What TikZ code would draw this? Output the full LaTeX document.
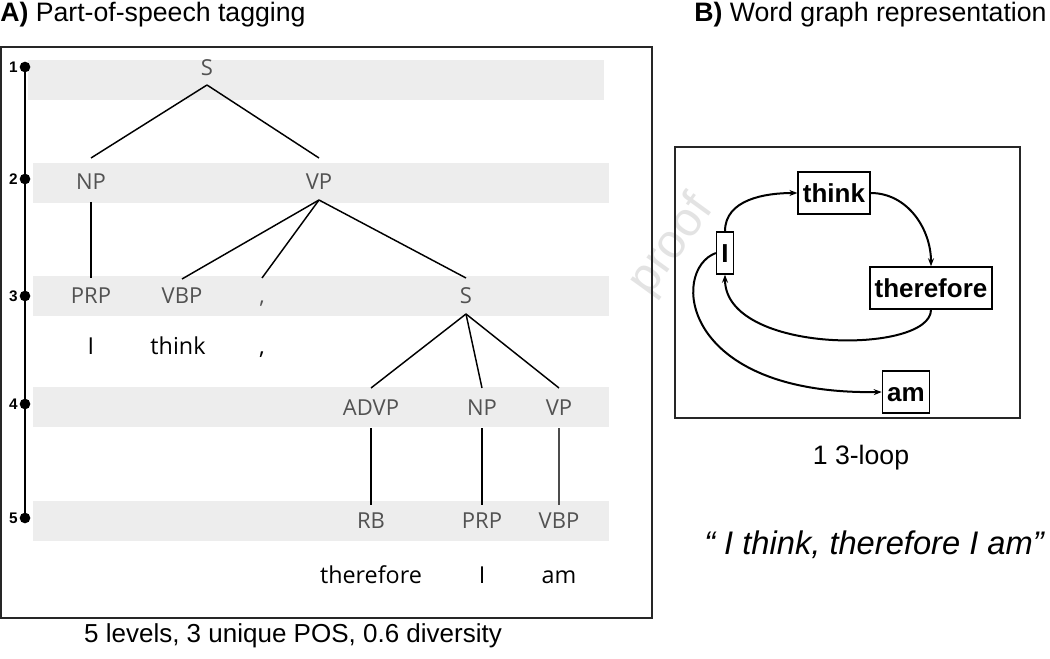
\documentclass[tikz,border=0pt]{standalone}
\usepackage{fontspec}
\setmainfont{Liberation Sans}
\newfontfamily\treefont{Open Sans}
\usetikzlibrary{arrows.meta,calc}
\tikzset{
  band/.style={fill=black!7, draw=none},
  postag/.style={font=\treefont\fontsize{16.5}{16.5}\selectfont, text=black!68, inner sep=1pt, text height=11.8pt, text depth=0pt},
  wordtag/.style={font=\treefont\fontsize{17.5}{17.5}\selectfont, text=black, inner sep=1pt, text height=12.5pt, text depth=0pt},
  branch/.style={line width=1.1pt},
  lvl/.style={font=\bfseries\fontsize{11.5}{11.5}\selectfont, inner sep=0pt},
  frame/.style={line width=1.1pt, draw=black!85},
  gnode/.style={draw, line width=1.1pt, font=\bfseries\fontsize{19.5}{19.5}\selectfont, inner xsep=3.6pt, inner ysep=0pt, minimum height=31.5pt, text height=14pt, text depth=0pt},
  gedge/.style={line width=1.5pt, -{Stealth[length=6pt,width=4.5pt]}},
  titletext/.style={font=\fontsize{20}{20}\selectfont, inner sep=0pt, anchor=base west},
}
\begin{document}
\begin{tikzpicture}[x=0.75pt,y=-0.75pt]
\useasboundingbox (0,0) rectangle (1050,659);
\fill[white] (0,0) rectangle (1050,659);

% watermark
\node[rotate=54, text=black!11, font=\fontsize{36}{36}\selectfont, inner sep=0pt] (wm) at (672,246) {proof};

% titles
\node[titletext] (tA) at (0,22) {\textbf{A)} Part-of-speech tagging};
\node[titletext] (tB) at (694,22) {\textbf{B)} Word graph representation};

% left frame
\draw[frame] (1,47) rectangle (652,618);

% bands
\fill[band] (28,60) rectangle (604,100);
\fill[band] (33,163) rectangle (609,203);
\fill[band] (33,276) rectangle (609,316);
\fill[band] (33,387) rectangle (609,427);
\fill[band] (33,501) rectangle (609,541);

% timeline
\coordinate (L1) at (25,67);
\coordinate (L2) at (25,179);
\coordinate (L3) at (25,296);
\coordinate (L4) at (25,404);
\coordinate (L5) at (25,518);
\draw[line width=1.1pt] (L1) -- (L5);
\foreach \i in {1,...,5} {
  \fill (L\i) circle (4pt);
  \node[lvl, anchor=east] (n\i) at ($(L\i)+(-7,0)$) {\i};
}

% tree nodes
\node[postag] (S1) at (207,68) {S};
\node[postag] (NP2) at (91,182) {NP};
\node[postag] (VP2) at (319,182) {VP};
\node[postag] (PRP3) at (91,296) {PRP};
\node[postag] (VBP3) at (182,296) {VBP};
\node[postag] (C3) at (262,296) {,};
\node[postag] (S3) at (466,296) {S};
\node[postag] (ADVP4) at (371,408) {ADVP};
\node[postag] (NP4) at (482,408) {NP};
\node[postag] (VP4) at (559,408) {VP};
\node[postag] (RB5) at (371,521) {RB};
\node[postag] (PRP5) at (482,521) {PRP};
\node[postag] (VBP5) at (559,521) {VBP};

\node[wordtag] (wI) at (91,346) {I};
\node[wordtag] (wthink) at (178,346) {think};
\node[wordtag] (wcomma) at (262,346) {,};
\node[wordtag] (wtherefore) at (371,575) {therefore};
\node[wordtag] (wI2) at (482,575) {I};
\node[wordtag] (wam) at (559,575) {am};

% tree branches
\draw[branch] ($(S1)+(0,17)$) -- ($(NP2)+(0,-24)$);
\draw[branch] ($(S1)+(0,17)$) -- ($(VP2)+(0,-24)$);
\draw[branch] ($(NP2)+(0,20)$) -- ($(PRP3)+(0,-18)$);
\draw[branch] ($(VP2)+(0,18)$) -- ($(VBP3)+(0,-17)$);
\draw[branch] ($(VP2)+(0,18)$) -- ($(C3)+(0,-18)$);
\draw[branch] ($(VP2)+(0,18)$) -- ($(S3)+(0,-18)$);
\draw[branch] ($(S3)+(0,18)$) -- ($(ADVP4)+(0,-20)$);
\draw[branch] ($(S3)+(0,18)$) -- ($(NP4)+(0,-20)$);
\draw[branch] ($(S3)+(0,18)$) -- ($(VP4)+(0,-20)$);
\draw[branch] ($(ADVP4)+(0,20)$) -- ($(RB5)+(0,-16)$);
\draw[branch] ($(NP4)+(0,20)$) -- ($(PRP5)+(0,-16)$);
\draw[line width=0.8pt, black!70] ($(VP4)+(0,20)$) -- ($(VBP5)+(0,-16)$);

% caption
\node[font=\fontsize{19.5}{19.5}\selectfont, inner sep=0pt, anchor=base] (capA) at (293,642) {5 levels, 3 unique POS, 0.6 diversity};

% right frame
\draw[frame] (675,147) rectangle (1020,418);

% graph
\node[gnode] (gI) at (725,253) {I};
\node[gnode] (gthink) at (834,193) {think};
\node[gnode] (gtherefore) at (931,288) {therefore};
\node[gnode] (gam) at (906,392) {am};

\draw[gedge] (gI.north) to[out=90,in=180] (gthink.west);
\draw[gedge] (gthink.east) to[out=0,in=90] (gtherefore.north);
\draw[gedge] (gtherefore.south) .. controls +(0,45) and +(0,80) .. (gI.south);
\draw[gedge] (gI.west) .. controls (670,270) and (680,395) .. (gam.west);

\node[font=\fontsize{20}{20}\selectfont, inner sep=0pt, anchor=base] (loop) at (861,464) {1 3-loop};
\node[font=\itshape\fontsize{24.5}{24.5}\selectfont, inner sep=0pt, anchor=base] (quote) at (874,554) {\textquotedblleft{} I think, therefore I am\char34};
\end{tikzpicture}
\end{document}
